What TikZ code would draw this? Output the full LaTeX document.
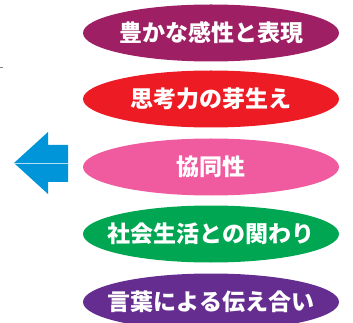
\documentclass[tikz,border=0pt]{standalone}
\usepackage{fontspec}
\newfontfamily\cjk{Noto Sans CJK JP Black}
\definecolor{cA}{HTML}{9E1F63}
\definecolor{cB}{HTML}{ED1C24}
\definecolor{cC}{HTML}{F05A9E}
\definecolor{cD}{HTML}{00A651}
\definecolor{cE}{HTML}{662D91}
\definecolor{arrowblue}{HTML}{0095D9}
\tikzset{
  label/.style={inner sep=0pt, text=white, font=\cjk\fontsize{23}{25}\selectfont},
}
\newcommand{\ovalnode}[4]{%
  \fill[#1] (#3) ellipse [x radius=128, y radius=28.5];
  \node[label] (#2) at (#3) {#4};
}
\begin{document}
\begin{tikzpicture}[x=1pt,y=-1pt]
\useasboundingbox (0,0) rectangle (353,323);
\ovalnode{cA}{n1}{211,33}{豊かな感性と表現}
\ovalnode{cB}{n2}{211,99}{思考力の芽生え}
\ovalnode{cC}{n3}{211,167}{協同性}
\ovalnode{cD}{n4}{211,234}{社会生活との関わり}
\ovalnode{cE}{n5}{211,302}{言葉による伝え合い}
% arrow
\fill[arrowblue] (14,163) -- (48,132) -- (48,145) -- (68,145) -- (68,182) -- (48,182) -- (48,194) -- cycle;
\draw[white!70!arrowblue, line width=0.4pt] (14,163) -- (68,163);
\draw[gray, line width=0.6pt] (0,67) -- (3,67);
\end{tikzpicture}
\end{document}
